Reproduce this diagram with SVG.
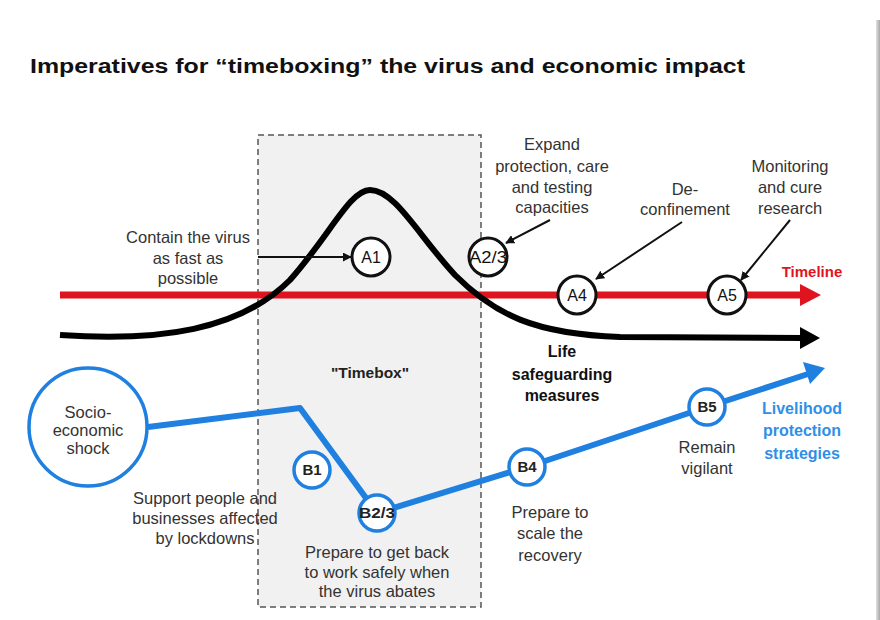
<svg xmlns="http://www.w3.org/2000/svg" width="880" height="620" viewBox="0 0 880 620">
<defs>
<marker id="ah" viewBox="0 0 10 10" refX="9" refY="5" markerWidth="9" markerHeight="9" markerUnits="userSpaceOnUse" orient="auto"><path d="M0,0 L10,5 L0,10 z" fill="#111"/></marker>
<linearGradient id="sh" x1="0" x2="1" y1="0" y2="0"><stop offset="0" stop-color="#e0e0e0"/><stop offset="1" stop-color="#a8a8a8"/></linearGradient>
</defs>
<style>
text{font-family:"Liberation Sans",Arial,sans-serif;}
.t{font-size:16.5px;fill:#333;text-anchor:middle;}
.lbl{font-size:16px;fill:#111;text-anchor:middle;}
.blbl{font-size:15px;fill:#222;text-anchor:middle;font-weight:bold;}
.acirc{fill:#fff;stroke:#111;stroke-width:3;}
.bcirc{fill:#fff;stroke:#1f80e0;stroke-width:3.5;}
.thin{stroke:#111;stroke-width:2;fill:none;marker-end:url(#ah);}
</style>
<rect x="0" y="0" width="880" height="620" fill="#fff"/>
<rect x="876" y="20" width="4" height="600" fill="url(#sh)"/>
<text x="30" y="73" font-size="20" font-weight="bold" fill="#111" textLength="715" lengthAdjust="spacingAndGlyphs">Imperatives for “timeboxing” the virus and economic impact</text>

<g id="timebox">
<rect x="258" y="135" width="223" height="472" fill="#f1f1f1" stroke="#555" stroke-width="1.5" stroke-dasharray="6,4"/>
<text x="370" y="378" font-size="15.5" font-weight="bold" fill="#222" text-anchor="middle">"Timebox"</text>
</g>

<g id="connectors">
<line x1="60" y1="295" x2="803" y2="295" stroke="#e0141e" stroke-width="7"/>
<path d="M800,284 L821,295 L800,306 z" fill="#e0141e"/>
<path d="M60,335 C160,342 240,330 290,280 C330,235 350,190 370,190 C395,190 418,235 455,275 C495,315 535,334 620,337 L803,338" fill="none" stroke="#000" stroke-width="6"/>
<path d="M800,327 L820,338 L800,349 z" fill="#000"/>
<polyline points="148,427 300,408 377,513 527,467 707,407 808,374" fill="none" stroke="#1f80e0" stroke-width="6" stroke-linejoin="round"/>
<path d="M803,362 L825,368 L810,384 z" fill="#1f80e0"/>
<line class="thin" x1="258" y1="257" x2="351" y2="257"/>
<line class="thin" x1="550" y1="220" x2="506" y2="243"/>
<line class="thin" x1="682" y1="222" x2="596" y2="279"/>
<line class="thin" x1="790" y1="220" x2="741" y2="280"/>
</g>

<g id="timeline-label"><text x="812" y="277" font-size="15" font-weight="bold" fill="#e0141e" text-anchor="middle">Timeline</text></g>

<g id="A1"><circle class="acirc" cx="371" cy="257" r="19"/><text class="lbl" x="371" y="263">A1</text></g>
<g id="A23"><circle class="acirc" cx="488" cy="257" r="19"/><text class="lbl" x="488" y="263" textLength="38" lengthAdjust="spacingAndGlyphs">A2/3</text></g>
<g id="A4"><circle class="acirc" cx="577" cy="295" r="19"/><text class="lbl" x="577" y="301">A4</text></g>
<g id="A5"><circle class="acirc" cx="727" cy="295" r="19"/><text class="lbl" x="727" y="301">A5</text></g>

<g id="contain"><text class="t" x="188" y="243">Contain the virus</text><text class="t" x="188" y="264">as fast as</text><text class="t" x="188" y="284">possible</text></g>
<g id="expand"><text class="t" x="552" y="150">Expand</text><text class="t" x="552" y="172">protection, care</text><text class="t" x="552" y="193">and testing</text><text class="t" x="552" y="213">capacities</text></g>
<g id="deconf"><text class="t" x="685" y="195">De-</text><text class="t" x="685" y="215">confinement</text></g>
<g id="monitor"><text class="t" x="790" y="172">Monitoring</text><text class="t" x="790" y="193">and cure</text><text class="t" x="790" y="214">research</text></g>
<g id="life"><text x="562" y="357" font-size="16" font-weight="bold" fill="#111" text-anchor="middle">Life</text><text x="562" y="380" font-size="16" font-weight="bold" fill="#111" text-anchor="middle">safeguarding</text><text x="562" y="401" font-size="16" font-weight="bold" fill="#111" text-anchor="middle">measures</text></g>

<g id="shock"><circle cx="88" cy="427" r="59" fill="#fff" stroke="#1f80e0" stroke-width="3.5"/><text class="t" x="88" y="418">Socio-</text><text class="t" x="88" y="436">economic</text><text class="t" x="88" y="454">shock</text></g>
<g id="B1"><circle class="bcirc" cx="312" cy="470" r="18"/><text class="blbl" x="312" y="475">B1</text></g>
<g id="B23"><circle class="bcirc" cx="377" cy="513" r="18"/><text class="blbl" x="377" y="518" textLength="36" lengthAdjust="spacingAndGlyphs">B2/3</text></g>
<g id="B4"><circle class="bcirc" cx="527" cy="467" r="18"/><text class="blbl" x="527" y="472">B4</text></g>
<g id="B5"><circle class="bcirc" cx="707" cy="407" r="18"/><text class="blbl" x="707" y="412">B5</text></g>

<g id="support"><text class="t" x="205" y="504">Support people and</text><text class="t" x="205" y="524">businesses affected</text><text class="t" x="205" y="544">by lockdowns</text></g>
<g id="prepare-back"><text class="t" x="377" y="558">Prepare to get back</text><text class="t" x="377" y="578">to work safely when</text><text class="t" x="377" y="597">the virus abates</text></g>
<g id="prepare-scale"><text class="t" x="550" y="518">Prepare to</text><text class="t" x="550" y="539">scale the</text><text class="t" x="550" y="561">recovery</text></g>
<g id="vigilant"><text class="t" x="707" y="453">Remain</text><text class="t" x="707" y="474">vigilant</text></g>
<g id="livelihood"><text x="802" y="414" font-size="16" font-weight="bold" fill="#2f8fe8" text-anchor="middle">Livelihood</text><text x="802" y="436" font-size="16" font-weight="bold" fill="#2f8fe8" text-anchor="middle">protection</text><text x="802" y="459" font-size="16" font-weight="bold" fill="#2f8fe8" text-anchor="middle">strategies</text></g>
</svg>
